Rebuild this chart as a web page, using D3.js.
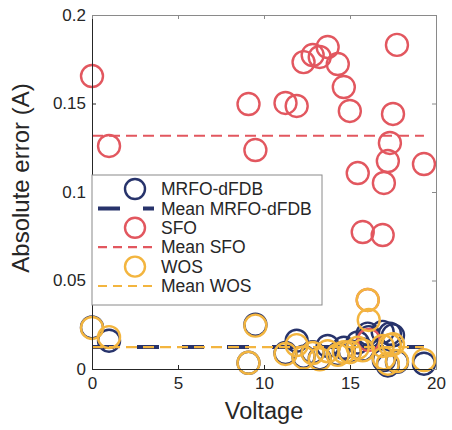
<!DOCTYPE html>
<html lang="en">
<head>
<meta charset="utf-8">
<title>Absolute error</title>
<style>
  body { margin: 0; background: #fff; font-family: "Liberation Sans", Arial, sans-serif; }
  text { fill: #262626; }
</style>
<script src="https://cdn.jsdelivr.net/npm/d3@7"></script>
</head>
<body>
<script>
// voltages (shared by all three methods)
var voltage = [0, 0.99, 9.1, 9.5, 11.25, 11.9, 12.3, 12.83, 13.24, 13.7, 14.29, 14.64,
               14.99, 15.45, 15.74, 16.03, 16.09, 16.9, 16.97, 17.2, 17.32, 17.5, 17.73, 19.3];
var mrfo = [0.0235, 0.016, 0.0035, 0.025, 0.009, 0.016, 0.007, 0.0095, 0.006, 0.013, 0.0085, 0.012,
            0.010, 0.015, 0.011, 0.020, 0.018, 0.021, 0.005, 0.002, 0.020, 0.019, 0.004, 0.003];
var sfo  = [0.1655, 0.126, 0.1497, 0.1237, 0.1503, 0.1486, 0.1734, 0.1774, 0.1763, 0.1819, 0.1723, 0.1593,
            0.1458, 0.1107, 0.0774, 0.039, 0.0164, 0.0757, 0.1051, 0.1175, 0.1277, 0.1441, 0.1831, 0.1158];
var wos  = [0.0232, 0.018, 0.0035, 0.0245, 0.0085, 0.0135, 0.0065, 0.009, 0.0055, 0.010, 0.008, 0.0095,
            0.0095, 0.012, 0.0105, 0.039, 0.0277, 0.013, 0.006, 0.003, 0.0135, 0.014, 0.0045, 0.005];
var xTicks = [0, 5, 10, 15, 20];
var yTicks = [0, 0.05, 0.1, 0.15, 0.2];

var width = 452, height = 430;
var m = {left: 92, right: 16, top: 15, bottom: 61};

var svg = d3.select("body").append("svg")
  .attr("width", width)
  .attr("height", height);

var x = d3.scaleLinear().domain([0, 20]).range([m.left, width - m.right]);
var y = d3.scaleLinear().domain([0, 0.2]).range([height - m.bottom, m.top]);

var series = [
  {name: "MRFO-dFDB", vals: mrfo, color: "#27336b", lw: 4, dash: "22,23"},
  {name: "SFO", vals: sfo, color: "#e2575f", lw: 2.2, dash: "11,6"},
  {name: "WOS", vals: wos, color: "#f3b53f", lw: 2.2, dash: "11,6"}
];

var plot = svg.append("g");
var vx = d3.extent(voltage);

series.forEach(function(s) {
  plot.append("g").selectAll("circle")
    .data(s.vals)
    .enter().append("circle")
    .attr("cx", function(d, i) { return x(voltage[i]); })
    .attr("cy", function(d) { return y(d); })
    .attr("r", 11)
    .attr("fill", "none")
    .attr("stroke", s.color)
    .attr("stroke-width", 2.4);
  var mean = d3.mean(s.vals);
  plot.append("line")
    .attr("x1", x(vx[0])).attr("x2", x(vx[1]))
    .attr("y1", y(mean)).attr("y2", y(mean))
    .attr("stroke", s.color)
    .attr("stroke-width", s.lw)
    .attr("stroke-dasharray", s.dash);
});

// box + axes (ticks inward)
var axCol = "#262626";
function styleAxis(g) {
  g.selectAll("path").attr("stroke", axCol);
  g.selectAll("line").attr("stroke", axCol);
  g.selectAll("text").style("font-size", "17px").attr("fill", axCol);
}
var xa = svg.append("g").attr("transform", "translate(0," + y(0) + ")")
  .call(d3.axisBottom(x).tickValues(xTicks).tickSize(-4).tickSizeOuter(0).tickPadding(8).tickFormat(d3.format("d")));
styleAxis(xa);
var ya = svg.append("g").attr("transform", "translate(" + x(0) + ",0)")
  .call(d3.axisLeft(y).tickValues(yTicks).tickSize(-4).tickSizeOuter(0).tickPadding(6).tickFormat(function(d) { return String(+d.toFixed(2)); }));
styleAxis(ya);
var xt = svg.append("g").attr("transform", "translate(0," + y(0.2) + ")")
  .call(d3.axisTop(x).tickValues(xTicks).tickSize(-4).tickSizeOuter(0).tickFormat(""));
xt.selectAll("path,line").attr("stroke", "#8a8a8a");
var yr = svg.append("g").attr("transform", "translate(" + x(20) + ",0)")
  .call(d3.axisRight(y).tickValues(yTicks).tickSize(-4).tickSizeOuter(0).tickFormat(""));
yr.selectAll("path,line").attr("stroke", "#8a8a8a");

svg.append("text")
  .attr("x", (x(0) + x(20)) / 2).attr("y", 419)
  .attr("text-anchor", "middle")
  .style("font-size", "23.5px")
  .text("Voltage");
svg.append("text")
  .attr("transform", "translate(29,178) rotate(-90)")
  .attr("text-anchor", "middle")
  .style("font-size", "24px")
  .text("Absolute error (A)");

// legend
var lg = svg.append("g");
lg.append("rect")
  .attr("x", 92).attr("y", 175).attr("width", 230).attr("height", 130)
  .attr("fill", "#fff").attr("stroke", "#8a8a8a").attr("stroke-width", 1);
var items = [];
series.forEach(function(s) {
  items.push({label: s.name, type: "circle", s: s});
  items.push({label: "Mean " + s.name, type: "line", s: s});
});
var row = lg.selectAll("g.item").data(items).enter().append("g")
  .attr("transform", function(d, i) { return "translate(0," + (189 + i * 19.4) + ")"; });
row.filter(function(d) { return d.type === "circle"; }).append("circle")
  .attr("cx", 135).attr("cy", 0).attr("r", 10)
  .attr("fill", "none").attr("stroke", function(d) { return d.s.color; }).attr("stroke-width", 2.4);
row.filter(function(d) { return d.type === "line"; }).append("line")
  .attr("x1", 98).attr("x2", 154).attr("y1", 0).attr("y2", 0)
  .attr("stroke", function(d) { return d.s.color; })
  .attr("stroke-width", function(d) { return d.s.lw; })
  .attr("stroke-dasharray", function(d) { return d.s.name === "MRFO-dFDB" ? "22,23" : "9,6"; });
row.append("text")
  .attr("x", 161).attr("y", 0).attr("dy", "0.35em")
  .style("font-size", "17.5px")
  .text(function(d) { return d.label; });
</script>
</body>
</html>
